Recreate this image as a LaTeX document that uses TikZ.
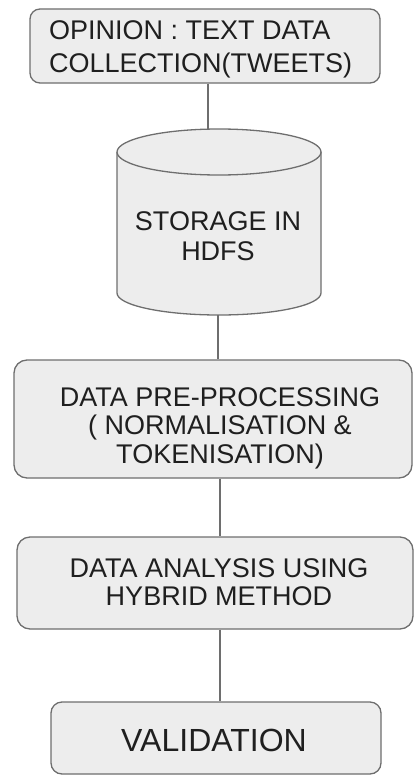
\documentclass[tikz,border=0pt]{standalone}
\usepackage{fontspec}
\setmainfont{Liberation Sans}
\definecolor{boxfill}{HTML}{EDEDED}
\definecolor{edge}{HTML}{6E6E6E}
\begin{document}
\begin{tikzpicture}[x=1pt,y=-1pt,
  stepbox/.style={draw=edge, fill=boxfill, line width=1.3pt, rounded corners=13pt, inner sep=0pt},
  caption/.style={inner sep=0pt, text=black!88, font=\fontsize{27}{28.5}\selectfont},
  link/.style={draw=edge, line width=1.3pt}]
\useasboundingbox (0,0) rectangle (414,776);

% process boxes
\node[stepbox, rounded corners=10pt, minimum width=350pt, minimum height=74pt] (b1) at (205,46) {};
\node[stepbox, minimum width=398pt, minimum height=118pt] (b3) at (213,419) {};
\node[stepbox, minimum width=396pt, minimum height=92pt] (b4) at (215,583) {};
\node[stepbox, rounded corners=11pt, minimum width=330pt, minimum height=72pt] (b5) at (216,738) {};

% storage cylinder
\fill[boxfill] (117,152) -- (117,293) arc[start angle=180, end angle=0, x radius=102, y radius=22] -- (321,152) -- cycle;
\draw[edge, line width=1.3pt] (117,152) -- (117,293) arc[start angle=180, end angle=0, x radius=102, y radius=22] -- (321,152);
\filldraw[fill=boxfill, draw=edge, line width=1.3pt] (219,152) ellipse[x radius=102, y radius=23];
\coordinate (cyltop) at (208,129);
\coordinate (cylbot) at (218,315);
\coordinate (axis) at (220,0);

% texts
\node[caption, anchor=west, align=left, font=\fontsize{27}{33}\selectfont] (t1) at (49,49) {OPINION : TEXT DATA\\COLLECTION(TWEETS)};
\node[caption, align=center, font=\fontsize{27}{30}\selectfont] (t2) at (218,236) {STORAGE IN\\HDFS};
\node[caption, align=center] (t3) at (220,428) {DATA PRE-PROCESSING\\( NORMALISATION \&\\TOKENISATION)};
\node[caption, align=center, font=\fontsize{27}{28}\selectfont] (t4) at (219,582) {DATA ANALYSIS USING\\HYBRID METHOD};
\node[caption, font=\fontsize{32}{34}\selectfont] (t5) at (214,740) {VALIDATION};

% connectors
\draw[link] (b1.south -| cyltop) -- (cyltop);
\draw[link] (cylbot) -- (cylbot |- b3.north);
\draw[link] (b3.south -| axis) -- (b4.north -| axis);
\draw[link] (b4.south -| axis) -- (b5.north -| axis);
\end{tikzpicture}
\end{document}
